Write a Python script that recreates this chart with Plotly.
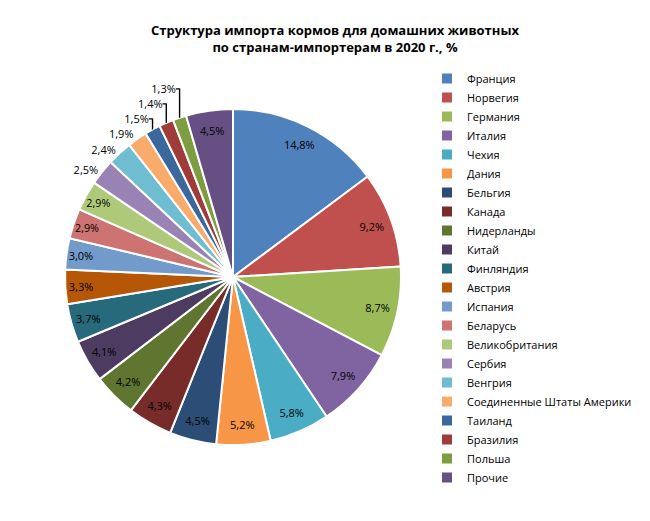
import plotly.graph_objects as go

countries = ["Франция", "Норвегия", "Германия", "Италия", "Чехия", "Дания", "Бельгия",
             "Канада", "Нидерланды", "Китай", "Финляндия", "Австрия", "Испания", "Беларусь",
             "Великобритания", "Сербия", "Венгрия", "Соединенные Штаты Америки", "Таиланд",
             "Бразилия", "Польша", "Прочие"]
shares = [14.8, 9.2, 8.7, 7.9, 5.8, 5.2, 4.5, 4.3, 4.2, 4.1, 3.7, 3.3, 3.0, 2.9, 2.9,
          2.5, 2.4, 1.9, 1.5, 1.4, 1.3, 4.5]
colors = ["#4F81BD", "#C0504D", "#9BBB59", "#8064A2", "#4BACC6", "#F79646",
          "#2C4D75", "#772C2A", "#5F7530", "#4D3B62", "#276A7C", "#B65708",
          "#729ACA", "#CD7371", "#AFC97A", "#9983B5", "#6FBDD1", "#F9AB6B",
          "#3A679C", "#9F3B38", "#7E9D40", "#664F83"]
text_pos = ["inside"] * 15 + ["outside"] * 6 + ["inside"]

W, H = 650, 521
cx, cy, r = 233, 277, 168
dom = dict(x=[(cx - r) / W, (cx + r) / W], y=[1 - (cy + r) / H, 1 - (cy - r) / H])
lab_font = dict(family="Open Sans", size=11, color="#000000")

fig = go.Figure()
# coloured slices
fig.add_trace(go.Pie(
    labels=countries, values=shares, sort=False, direction="clockwise", rotation=0,
    marker=dict(colors=colors, line=dict(color="white", width=2)),
    textinfo="none", hoverinfo="label+value", domain=dom,
))
# label ring (transparent overlay so labels sit near the rim, as in the original)
fig.add_trace(go.Pie(
    labels=countries, values=shares, sort=False, direction="clockwise", rotation=0,
    hole=0.76, showlegend=False,
    marker=dict(colors=["rgba(0,0,0,0)"] * len(shares), line=dict(width=0)),
    texttemplate="%{value:.1f}%", textposition=text_pos,
    insidetextorientation="horizontal",
    textfont=lab_font, insidetextfont=lab_font, outsidetextfont=lab_font,
    hoverinfo="skip", domain=dom,
))

fig.update_layout(
    width=W, height=H,
    margin=dict(l=0, r=0, t=0, b=0),
    paper_bgcolor="white",
    separators=", ",
    font=dict(family="Open Sans", size=11, color="#000000"),
    title=dict(
        text="<b>Структура импорта кормов для домашних животных<br>по странам-импортерам в 2020 г., %</b>",
        x=335 / W, xanchor="center", xref="paper",
        y=1 - 35 / H, yanchor="middle", yref="container",
        font=dict(family="Open Sans", size=13, color="#000000"),
    ),
    legend=dict(
        x=427 / W, xanchor="left", y=1 - 64 / H, yanchor="top",
        font=dict(family="Open Sans", size=11, color="#000000"),
        traceorder="normal",
    ),
)

fig.write_html("out.html")
